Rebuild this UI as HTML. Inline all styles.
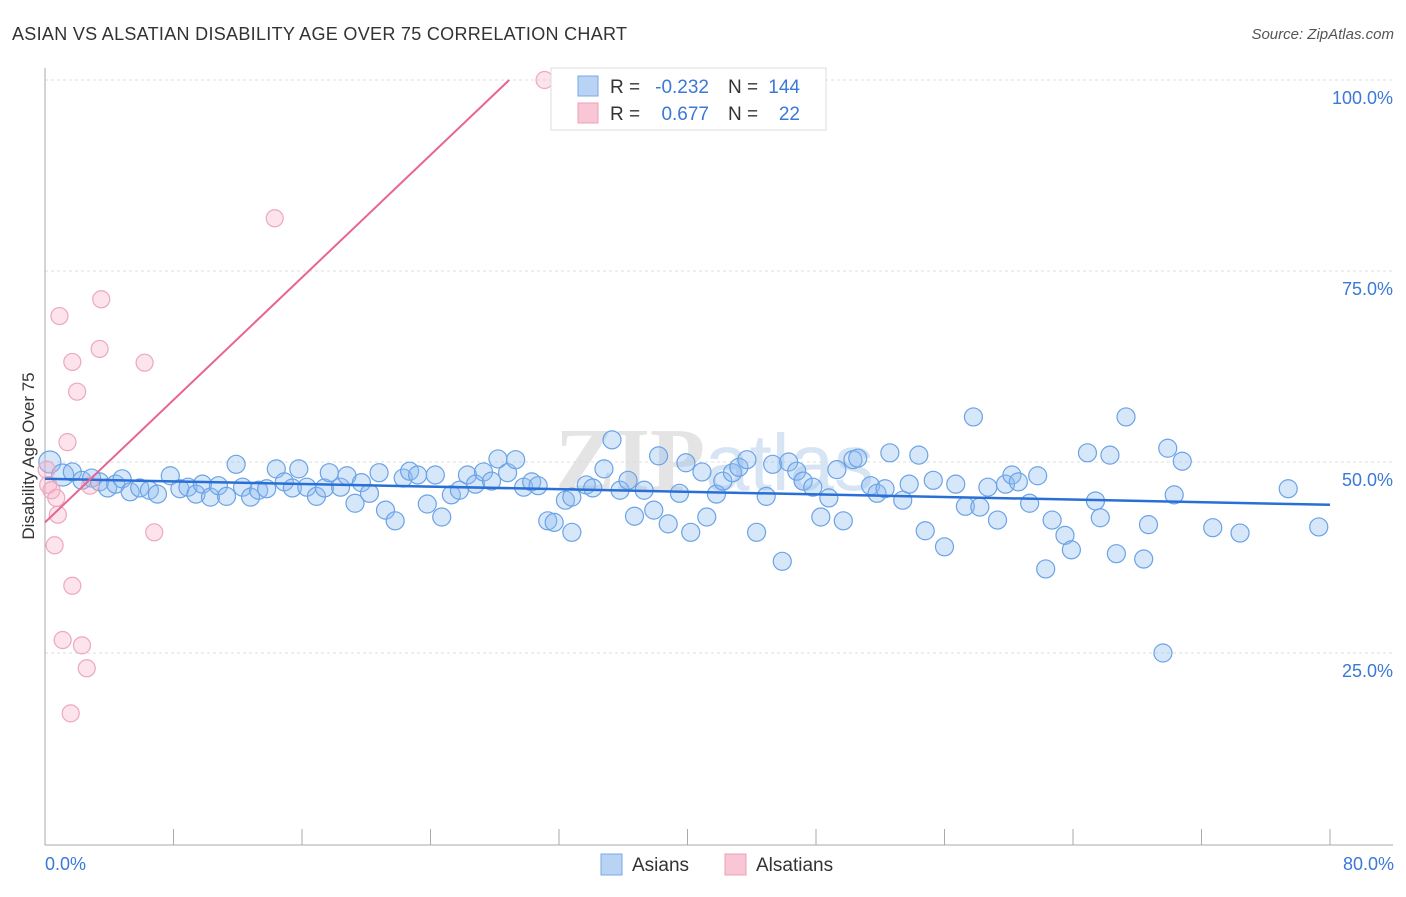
<!DOCTYPE html>
<html><head><meta charset="utf-8"><style>
body{margin:0;background:#fff;font-family:"Liberation Sans",sans-serif}
</style></head><body>
<svg width="1406" height="892" xmlns="http://www.w3.org/2000/svg" font-family="Liberation Sans, sans-serif">
<text x="12" y="40" font-size="18" fill="#333" textLength="615">ASIAN VS ALSATIAN DISABILITY AGE OVER 75 CORRELATION CHART</text>
<text x="1394" y="39" font-size="15" fill="#555" font-style="italic" text-anchor="end">Source: ZipAtlas.com</text>
<text x="555" y="490" font-size="90" fill="#e4e4e4" font-family="Liberation Serif, serif" font-weight="bold">ZIP<tspan font-family="Liberation Sans, sans-serif" font-weight="normal" fill="#d6e4f4" font-size="80">atlas</tspan></text>
<g id="grid"></g>
<g id="axes"></g>
<g id="pts"></g>
<g id="lines"></g>
<text transform="translate(34,456) rotate(-90)" font-size="17" fill="#333" text-anchor="middle">Disability Age Over 75</text>
<text x="45" y="870" font-size="18" fill="#3b78d8">0.0%</text>
<text x="1394" y="870" font-size="18" fill="#3b78d8" text-anchor="end">80.0%</text>
<g>
<rect x="551" y="68" width="275" height="62" fill="#fff" stroke="#ddd"/>
<rect x="578" y="76" width="20" height="20" fill="#b8d3f4" stroke="#7aa8e6"/>
<rect x="578" y="103" width="20" height="20" fill="#f9c6d5" stroke="#eaa0b8"/>
<text x="610" y="93" font-size="19" fill="#333">R =</text>
<text x="709" y="93" font-size="19" fill="#3b78d8" text-anchor="end">-0.232</text>
<text x="728" y="93" font-size="19" fill="#333">N =</text>
<text x="800" y="93" font-size="19" fill="#3b78d8" text-anchor="end">144</text>
<text x="610" y="120" font-size="19" fill="#333">R =</text>
<text x="709" y="120" font-size="19" fill="#3b78d8" text-anchor="end">0.677</text>
<text x="728" y="120" font-size="19" fill="#333">N =</text>
<text x="800" y="120" font-size="19" fill="#3b78d8" text-anchor="end">22</text>
</g>
<g>
<rect x="601" y="854" width="21" height="21" fill="#b8d3f4" stroke="#7aa8e6"/>
<text x="632" y="871" font-size="19" fill="#333">Asians</text>
<rect x="725" y="854" width="21" height="21" fill="#f9c6d5" stroke="#eaa0b8"/>
<text x="756" y="871" font-size="19" fill="#333">Alsatians</text>
</g>
</svg>
<script>
const blueX=[0.3,1.1,1.7,2.3,2.9,3.4,3.9,4.4,4.8,5.3,5.9,6.5,7.0,7.8,8.4,8.9,9.4,9.8,10.3,10.8,11.3,11.9,12.3,12.8,13.3,13.8,14.4,14.9,15.4,15.8,16.3,16.9,17.4,17.7,18.4,18.8,19.3,19.7,20.2,20.8,21.2,21.8,22.3,22.7,23.2,23.8,24.3,24.7,25.3,25.8,26.3,26.8,27.3,27.8,28.2,28.8,29.3,29.8,30.3,30.7,31.3,31.7,32.4,32.8,32.8,33.7,34.1,34.8,35.3,35.8,36.3,36.7,37.3,37.9,38.2,38.8,39.5,39.9,40.2,40.9,41.2,41.8,42.2,42.8,43.2,43.7,44.3,44.9,45.3,45.9,46.3,46.8,47.2,47.8,48.3,48.8,49.3,49.7,50.3,50.6,51.4,51.8,52.3,52.6,53.4,53.8,54.4,54.8,55.3,56.0,56.7,57.3,57.8,58.2,58.7,59.3,59.8,60.2,60.6,61.3,61.8,62.3,62.7,63.5,63.9,64.9,65.4,65.7,66.3,66.7,67.3,68.4,68.7,69.6,69.9,70.3,70.8,72.7,74.4,77.4,79.3];
const blueY=[50.0,48.3,48.7,47.6,47.9,47.4,46.6,47.1,47.8,46.1,46.6,46.3,45.8,48.2,46.5,46.7,45.8,47.1,45.4,46.9,45.5,49.7,46.7,45.4,46.3,46.5,49.1,47.4,46.6,49.1,46.7,45.5,46.6,48.6,46.7,48.2,44.6,47.3,45.9,48.6,43.7,42.3,47.9,48.8,48.3,44.5,48.3,42.8,45.7,46.3,48.3,47.1,48.7,47.5,50.4,48.6,50.3,46.7,47.4,46.9,42.3,42.1,45.0,45.4,40.8,47.0,46.6,49.1,52.9,46.3,47.6,42.9,46.3,43.7,50.8,41.9,45.9,49.9,40.8,48.7,42.8,45.8,47.5,48.6,49.3,50.3,40.8,45.5,49.7,37.0,50.0,48.8,47.5,46.7,42.8,45.3,49.0,42.3,50.3,50.5,46.9,45.9,46.5,51.2,45.0,47.1,50.9,41.0,47.6,38.9,47.1,44.2,55.9,44.1,46.7,42.4,47.1,48.3,47.4,44.6,48.2,36.0,42.4,40.4,38.5,51.2,44.9,42.7,50.9,38.0,55.9,37.3,41.8,25.0,51.8,45.7,50.1,41.4,40.7,46.5,41.5];
const pinkX=[0.1,0.2,0.4,0.6,0.7,0.8,0.9,1.1,1.4,1.6,1.7,1.7,2.0,2.3,2.6,2.8,3.4,3.5,6.2,6.8,14.3,31.1];
const pinkY=[49.0,47.0,46.3,39.1,45.3,43.1,69.1,26.7,52.6,17.1,33.8,63.1,59.2,26.0,23.0,46.9,64.8,71.3,63.0,40.8,81.9,100.0];
const blueTrend=[[0,47.8],[80,44.4]];
const pinkTrend=[[0,42.1],[28.9,100]];
const yTicks=[25,50,75,100];
const xTicks=[0,8,16,24,32,40,48,56,64,72,80];
const NS="http://www.w3.org/2000/svg";
const sx=v=>45+v/80*1285, sy=v=>844-v*7.64;
function mk(t,a,p){const e=document.createElementNS(NS,t);for(const k in a)e.setAttribute(k,a[k]);p.appendChild(e);return e;}
const grid=document.getElementById('grid'),axes=document.getElementById('axes'),pts=document.getElementById('pts'),lines=document.getElementById('lines');
yTicks.forEach(v=>{
 const l=mk('line',{x1:45,x2:1393,y1:sy(v),y2:sy(v),stroke:'#ddd','stroke-dasharray':'3,3'},grid);
 
 
 const t=mk('text',{x:1393,y:sy(v)+24,'font-size':18,fill:'#3b78d8','text-anchor':'end'},grid);
 t.textContent=v.toFixed(1)+'%';
 
 
});
let a=mk('line',{x1:45,x2:45,y1:68,y2:845,stroke:'#aaa'},axes);


a=mk('line',{x1:45,x2:1393,y1:845,y2:845,stroke:'#aaa'},axes);


xTicks.forEach(v=>{const t=mk('line',{x1:sx(v),x2:sx(v),y1:829,y2:845,stroke:'#aaa'},axes);
 
 });
blueX.forEach((x,i)=>{const c=mk('circle',{cx:sx(x),cy:sy(blueY[i]),r:i<2?11:9,fill:'rgba(140,185,240,0.35)',stroke:'#6aa3e6','stroke-width':1.2},pts);
 
 });
pinkX.forEach((x,i)=>{const c=mk('circle',{cx:sx(x),cy:sy(pinkY[i]),r:8.5,fill:'rgba(245,175,200,0.35)',stroke:'#eca8bf','stroke-width':1.2},pts);
 
 });
let tl=mk('line',{x1:sx(blueTrend[0][0]),y1:sy(blueTrend[0][1]),x2:sx(blueTrend[1][0]),y2:sy(blueTrend[1][1]),stroke:'#2a6fd6','stroke-width':2.5},lines);


tl=mk('line',{x1:sx(pinkTrend[0][0]),y1:sy(pinkTrend[0][1]),x2:sx(pinkTrend[1][0]),y2:sy(pinkTrend[1][1]),stroke:'#e8658f','stroke-width':2},lines);


</script>
</body></html>
